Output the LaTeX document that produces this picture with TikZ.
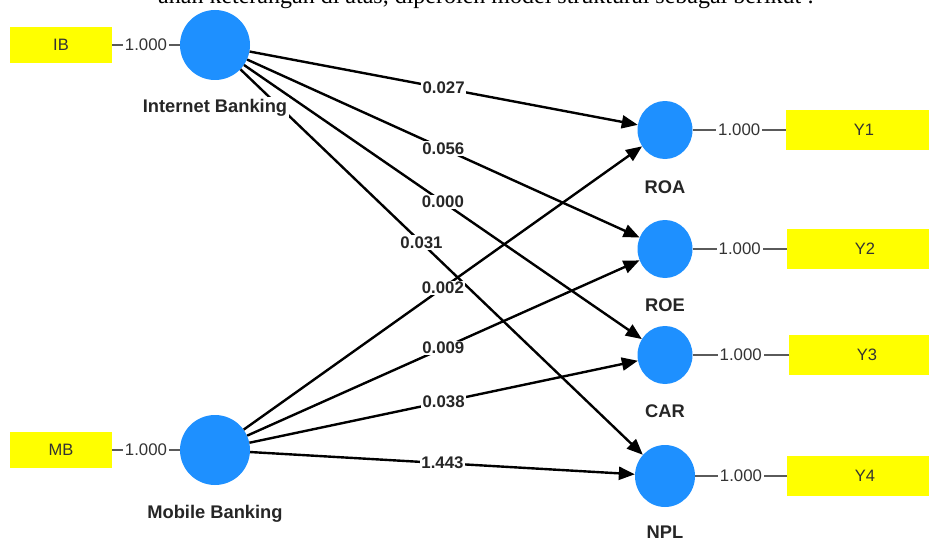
\documentclass[tikz,border=0pt]{standalone}
\usepackage{fontspec}
\setmainfont{Liberation Serif}
\newfontfamily\arialf{Liberation Sans}
\usetikzlibrary{arrows.meta,shapes.geometric}
\definecolor{plsblue}{RGB}{30,144,255}
\definecolor{plsyellow}{RGB}{255,255,0}
\definecolor{txtgray}{RGB}{51,51,51}
\definecolor{linegray}{RGB}{90,90,90}
\begin{document}
\begin{tikzpicture}[x=1pt,y=-1pt,
  lat/.style={circle,fill=plsblue,draw=none,inner sep=0pt,minimum size=70pt},
  endo/.style={ellipse,fill=plsblue,draw=none,inner sep=0pt,minimum width=55pt,minimum height=58pt},
  indbox/.style={rectangle,fill=plsyellow,draw=none,inner sep=0pt,minimum width=102pt,minimum height=36pt,font=\arialf\fontsize{16.5}{16.5}\selectfont,text=txtgray},
  indboxr/.style={indbox,minimum width=156pt,minimum height=40pt},
  latlabel/.style={fill=white,inner sep=2pt,font=\arialf\bfseries\fontsize{18.3}{18.3}\selectfont,text=black!85},
  loadline/.style={draw=linegray,line width=1.8pt},
  loadlbl/.style={fill=white,inner sep=2pt,font=\arialf\fontsize{16.8}{16.8}\selectfont,text=txtgray},
  pathline/.style={draw=black,line width=2.4pt,-{Triangle[length=16pt,width=13pt]}},
  coef/.style={fill=white,inner sep=1.5pt,font=\arialf\bfseries\fontsize{16.8}{16.8}\selectfont,text=black!85}
]
\useasboundingbox (0,0) rectangle (929,543);
\fill[white] (0,0) rectangle (929,543);
\begin{scope}
\clip (0,0) rectangle (929,543);
% header text (partly cut off at the top)
\node[anchor=base west,inner sep=0pt,font=\fontsize{24}{24}\selectfont] (hdr) at (158,4) {ahan keterangan di atas, diperoleh model struktural sebagai berikut :};

% latent variables
\node[lat] (IB) at (215,45) {};
\node[lat] (MB) at (215,450) {};
\node[endo] (ROA) at (665,130) {};
\node[endo] (ROE) at (665,249) {};
\node[endo] (CAR) at (665,355) {};
\node[endo,minimum width=60pt,minimum height=62pt] (NPL) at (665,476) {};

% indicators
\node[indbox] (IBb) at (61,45) {IB};
\node[indbox] (MBb) at (61,450) {MB};
\node[indboxr] (Y1) at (864,130) {Y1};
\node[indboxr] (Y2) at (865,249) {Y2};
\node[indboxr] (Y3) at (867,355) {Y3};
\node[indboxr] (Y4) at (865,476) {Y4};

% loadings
\draw[loadline] (IBb) -- node[loadlbl]{1.000} (IB);
\draw[loadline] (MBb) -- node[loadlbl]{1.000} (MB);
\draw[loadline] (ROA) -- node[loadlbl]{1.000} (Y1);
\draw[loadline] (ROE) -- node[loadlbl]{1.000} (Y2);
\draw[loadline] (CAR) -- node[loadlbl]{1.000} (Y3);
\draw[loadline] (NPL) -- node[loadlbl]{1.000} (Y4);

% structural paths
\draw[pathline] (IB) -- (ROA);
\draw[pathline] (IB) -- (ROE);
\draw[pathline] (IB) -- (CAR);
\draw[pathline] (IB) -- (NPL);
\draw[pathline] (MB) -- (ROA);
\draw[pathline] (MB) -- (ROE);
\draw[pathline] (MB) -- (CAR);
\draw[pathline] (MB) -- (NPL);

% path coefficients
\path (IB) -- node[coef,pos=0.5]{0.027} (ROA);
\path (IB) -- node[coef,pos=0.5]{0.056} (ROE);
\path (IB) -- node[coef,pos=0.5]{0.000} (CAR);
\path (IB) -- node[coef,pos=0.45]{0.031} (NPL);
\path (MB) -- node[coef,pos=0.5]{0.002} (ROA);
\path (MB) -- node[coef,pos=0.5]{0.009} (ROE);
\path (MB) -- node[coef,pos=0.5]{0.038} (CAR);
\path (MB) -- node[coef,pos=0.5]{1.443} (NPL);

% latent labels
\node[latlabel] (IBl) at (215,108) {Internet Banking};
\node[latlabel] (MBl) at (215,514) {Mobile Banking};
\node[latlabel] (ROAl) at (665,187) {ROA};
\node[latlabel] (ROEl) at (665,305) {ROE};
\node[latlabel] (CARl) at (665,411) {CAR};
\node[latlabel] (NPLl) at (665,532) {NPL};
\end{scope}
\end{tikzpicture}
\end{document}
